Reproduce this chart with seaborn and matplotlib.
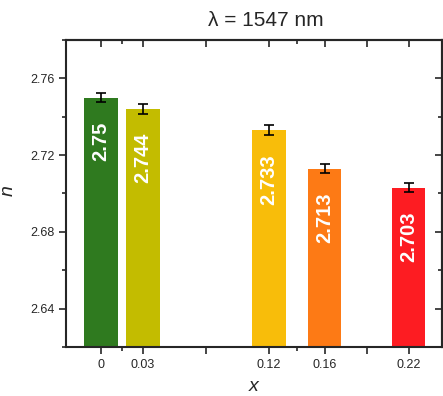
import numpy as np
import pandas as pd
import seaborn as sns
import matplotlib.pyplot as plt

# data
x_vals = [0, 0.03, 0.12, 0.16, 0.22]
n_vals = [2.75, 2.744, 2.733, 2.713, 2.703]
n_err = [0.0025, 0.0025, 0.0025, 0.0025, 0.0025]
bar_colors = ['#2f7a1f', '#c3bc00', '#f8bd0a', '#fd7a15', '#fd1c22']
value_labels = ['2.75', '2.744', '2.733', '2.713', '2.703']

df = pd.DataFrame({'x': x_vals, 'n': n_vals})

sns.set_style('ticks')
plt.rcParams['font.family'] = ['Liberation Sans', 'DejaVu Sans']

fig = plt.figure(figsize=(4.43, 3.96), dpi=100)
ax = fig.add_axes([0.149, 0.124, 0.849, 0.775])

sns.barplot(data=df, x='x', y='n', hue='x', palette=bar_colors,
            native_scale=True, dodge=False, legend=False, errorbar=None,
            width=0.8, saturation=1, linewidth=0, ax=ax)
ax.errorbar(x_vals, n_vals, yerr=n_err, fmt='none', ecolor='black',
            elinewidth=1.2, capsize=3.5, capthick=1.2)

for xv, yv, lab in zip(x_vals, n_vals, value_labels):
    ax.text(xv, yv - 0.0125, lab, rotation=90, ha='center', va='top',
            color='white', fontsize=14.5, fontweight='bold')

ax.set_xlim(-0.025, 0.244)
ax.set_ylim(2.62, 2.78)

xmaj = [0, 0.03, 0.075, 0.12, 0.16, 0.19, 0.22]
xmin = [0.015, 0.14]
ymaj = [2.64, 2.68, 2.72, 2.76]
ymin = [2.62, 2.66, 2.70, 2.74, 2.78]

ax.set_xticks(xmaj)
ax.set_xticklabels(['0', '0.03', '', '0.12', '0.16', '', '0.22'], fontsize=9)
ax.set_xticks(xmin, minor=True)
ax.set_yticks(ymaj)
ax.set_yticklabels(['2.64', '2.68', '2.72', '2.76'], fontsize=9)
ax.set_yticks(ymin, minor=True)
ax.tick_params(which='both', direction='out', width=1.2, top=False, right=False)
ax.tick_params(which='major', length=5)
ax.tick_params(which='minor', length=3)

# inward ticks on the top and right edges
top = ax.secondary_xaxis('top')
top.set_xticks(xmaj)
top.set_xticks(xmin, minor=True)
top.tick_params(which='both', direction='in', width=1.2, labeltop=False)
top.tick_params(which='major', length=5)
top.tick_params(which='minor', length=3)
right = ax.secondary_yaxis('right')
right.set_yticks(ymaj)
right.set_yticks(ymin, minor=True)
right.tick_params(which='both', direction='in', width=1.2, labelright=False)
right.tick_params(which='major', length=5)
right.tick_params(which='minor', length=3)

for s in ax.spines.values():
    s.set_linewidth(1.5)
top.spines['top'].set_linewidth(1.5)
right.spines['right'].set_linewidth(1.5)

ax.set_xlabel('x', fontsize=14, style='italic')
ax.set_ylabel('n', fontsize=14, style='italic')
ax.xaxis.set_label_coords(0.5, -0.1)
ax.yaxis.set_label_coords(-0.13, 0.51)
ax.set_title('λ = 1547 nm', fontsize=15, x=0.53, pad=10)

plt.savefig('out.png', dpi=100)
